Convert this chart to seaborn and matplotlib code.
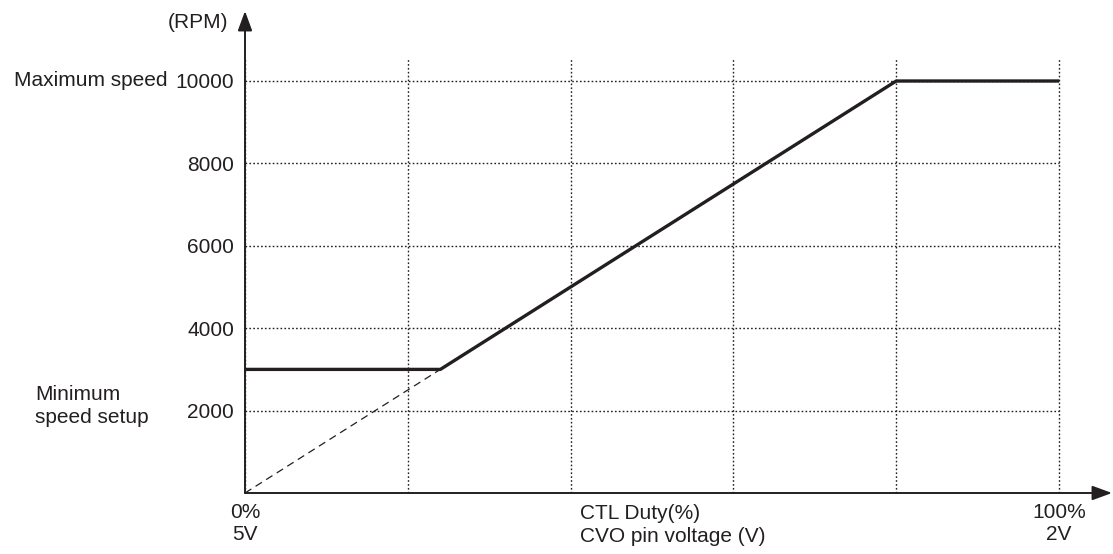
import numpy as np
import pandas as pd
import matplotlib
matplotlib.use("Agg")
import matplotlib.pyplot as plt
import seaborn as sns

# ---- data ----
duty = [0, 24, 80, 100]            # CTL duty (%)
rpm = [3000, 3000, 10000, 10000]   # speed (RPM)
ext_duty = [0, 24]                 # extrapolated line through the origin
ext_rpm = [0, 3000]
x_grid = [0, 20, 40, 60, 80, 100]
x_labels = ["0%\n5V", "", "", "", "", "100%\n2V"]
y_ticks = [2000, 4000, 6000, 8000, 10000]
y_labels = ["2000", "4000", "6000", "8000", "10000"]

sns.set_style("white")
plt.rcParams["font.family"] = ["Liberation Sans", "DejaVu Sans"]
FS = 15
INK = "#231f20"
W, H = 1113, 554

fig = plt.figure(figsize=(W / 100, H / 100), dpi=100)
# axes box in pixels: x 245..1059, y 58..493
ax = fig.add_axes([245 / W, (H - 493) / H, 814 / W, 435 / H])

curve = pd.DataFrame({"duty": duty, "rpm": rpm})
ext = pd.DataFrame({"duty": ext_duty, "rpm": ext_rpm})
sns.lineplot(data=curve, x="duty", y="rpm", ax=ax, color=INK, lw=2.4,
             sort=False, zorder=4)
sns.lineplot(data=ext, x="duty", y="rpm", ax=ax, color=INK, lw=0.9,
             sort=False, zorder=3).lines[-1].set_dashes((6, 4))

ax.set_xlim(0, 100)
ax.set_ylim(0, 10000 * 435 / 412)
ax.set_xticks(x_grid)
ax.set_xticklabels(x_labels, fontsize=FS, color=INK, linespacing=1.25)
ax.set_yticks(y_ticks)
ax.set_yticklabels(y_labels, fontsize=FS, color=INK)
ax.tick_params(axis="both", length=0)
ax.tick_params(axis="y", pad=8)
ax.tick_params(axis="x", pad=7)
ax.grid(True, color=INK, lw=1.0, linestyle=(0, (1.2, 1.6)))
for gl in ax.get_xgridlines() + ax.get_ygridlines():
    gl.set_clip_on(False)
ax.set_xlabel("")
ax.set_ylabel("")
for s in ax.spines.values():
    s.set_visible(False)

# axis arrows
arrow = dict(arrowstyle="-|>,head_length=0.6,head_width=0.22",
             color=INK, lw=1.4, mutation_scale=20, shrinkA=0, shrinkB=0)
ax.annotate("", xy=(0, (493 - 11) / 435), xytext=(0, 0),
            xycoords="axes fraction", arrowprops=arrow, annotation_clip=False)
ax.annotate("", xy=((1112 - 245) / 814, 0), xytext=(0, 0),
            xycoords="axes fraction", arrowprops=arrow, annotation_clip=False)

# texts
fig.text(228 / W, 1 - 22 / H, "(RPM)", ha="right", va="center", fontsize=FS,
         color=INK)
fig.text(167 / W, 1 - 81 / H, "Maximum speed", ha="right", va="center",
         fontsize=FS, color=INK)
fig.text(35 / W, 1 - 406 / H, "Minimum\nspeed setup", ha="left", va="center",
         fontsize=FS, color=INK, linespacing=1.25)
fig.text(580 / W, 1 - 525 / H, "CTL Duty(%)\nCVO pin voltage (V)", ha="left",
         va="center", fontsize=FS, color=INK, linespacing=1.25)

fig.savefig("out.png", dpi=100)
